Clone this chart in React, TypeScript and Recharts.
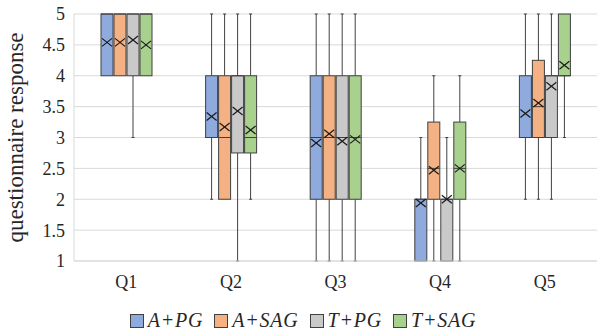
import React from 'react';
import { ComposedChart, Bar, XAxis, YAxis, CartesianGrid, Legend } from 'recharts';

// box stats per question: [min, q1, median, q3, max, mean]
const categories = ['Q1', 'Q2', 'Q3', 'Q4', 'Q5'];

const aPg = [
    [4, 4, 5, 5, 5, 4.54],
    [2, 3, 3, 4, 5, 3.34],
    [1, 2, 3, 4, 5, 2.91],
    [1, 1, 2, 2, 3, 1.94],
    [2, 3, 3, 4, 5, 3.39],
];
const aSag = [
    [4, 4, 5, 5, 5, 4.54],
    [2, 2, 3, 4, 5, 3.17],
    [1, 2, 3, 4, 5, 3.06],
    [1, 2, 2.5, 3.25, 4, 2.47],
    [2, 3, 3.5, 4.25, 5, 3.56],
];
const tPg = [
    [3, 4, 5, 5, 5, 4.58],
    [1, 2.75, 4, 4, 5, 3.43],
    [1, 2, 3, 4, 5, 2.94],
    [1, 1, 2, 2, 3, 2.0],
    [2, 3, 4, 4, 5, 3.83],
];
const tSag = [
    [4, 4, 5, 5, 5, 4.5],
    [2, 2.75, 3, 4, 5, 3.12],
    [1, 2, 3, 4, 5, 2.97],
    [1, 2, 2.5, 3.25, 4, 2.5],
    [3, 4, 4, 5, 5, 4.17],
];

const yTicks = [1, 1.5, 2, 2.5, 3, 3.5, 4, 4.5, 5];

const series = [
    { key: 'aPg', name: 'A+PG', color: '#8faadc', stats: aPg },
    { key: 'aSag', name: 'A+SAG', color: '#f4b183', stats: aSag },
    { key: 'tPg', name: 'T+PG', color: '#c9c9c9', stats: tPg },
    { key: 'tSag', name: 'T+SAG', color: '#a9d18e', stats: tSag },
];

const data = categories.map((name, i) => {
    const row: any = { name };
    series.forEach(s => {
        const [min, q1, med, q3, max, mean] = s.stats[i];
        row[s.key] = [min, max];
        row[s.key + 'Stats'] = { min, q1, med, q3, max, mean };
    });
    return row;
});

const LINE = '#404040';
const FONT = '"Liberation Serif", "Times New Roman", Tinos, serif';

const makeBoxShape = (key: string, color: string) => (props: any) => {
    const { x, y, width, height, payload } = props;
    const st = payload[key + 'Stats'];
    const top = Math.min(y, y + height);
    const bot = Math.max(y, y + height);
    const toPx = (v: number) => bot - ((v - st.min) / (st.max - st.min)) * (bot - top);
    const cx = x + width / 2;
    const yQ1 = toPx(st.q1);
    const yQ3 = toPx(st.q3);
    const yMed = toPx(st.med);
    const yMean = toPx(st.mean);
    return (
        <g>
            {st.max > st.q3 && (
                <>
                    <line x1={cx} x2={cx} y1={top} y2={yQ3} stroke={LINE} strokeWidth={1} />
                    <line x1={cx - 1.5} x2={cx + 1.5} y1={top} y2={top} stroke={LINE} strokeWidth={1} />
                </>
            )}
            {st.min < st.q1 && (
                <>
                    <line x1={cx} x2={cx} y1={yQ1} y2={bot} stroke={LINE} strokeWidth={1} />
                    <line x1={cx - 1.5} x2={cx + 1.5} y1={bot} y2={bot} stroke={LINE} strokeWidth={1} />
                </>
            )}
            <rect x={x} y={yQ3} width={width} height={yQ1 - yQ3} fill={color} stroke={LINE} strokeWidth={1} />
            <line x1={x} x2={x + width} y1={yMed} y2={yMed} stroke={LINE} strokeWidth={1} />
            <line x1={cx - 5} x2={cx + 5} y1={yMean - 4} y2={yMean + 4} stroke="#1a1a1a" strokeWidth={1.2} />
            <line x1={cx - 5} x2={cx + 5} y1={yMean + 4} y2={yMean - 4} stroke="#1a1a1a" strokeWidth={1.2} />
        </g>
    );
};

const renderLegend = () => (
    <div style={{ display: 'flex', justifyContent: 'center', alignItems: 'center', paddingTop: 16, paddingLeft: 20, fontFamily: FONT, fontSize: 20, fontStyle: 'italic', letterSpacing: 0.8, color: '#262626' }}>
        {series.map(s => (
            <div key={s.key} style={{ display: 'flex', alignItems: 'center', marginRight: 11 }}>
                <span style={{ display: 'inline-block', width: 12, height: 12, background: s.color, border: `1px solid ${LINE}`, marginRight: 4 }} />
                <span>{s.name}</span>
            </div>
        ))}
    </div>
);

const tickStyle = { fontFamily: FONT, fontSize: 18, fill: '#262626' };

export default function App() {
    return (
        <div style={{ position: 'absolute', left: 0, top: 0, width: 597, height: 333, background: '#fff', fontFamily: FONT }}>
            <ComposedChart
                width={597}
                height={333}
                data={data}
                margin={{ top: 14, right: 0, left: 0, bottom: 0 }}
                barSize={12}
                barGap={1}
            >
                <CartesianGrid horizontal vertical={false} stroke="#d9d9d9" />
                <XAxis
                    dataKey="name"
                    height={32}
                    tickLine={false}
                    axisLine={{ stroke: '#d9d9d9' }}
                    tickMargin={8}
                    tick={{ ...tickStyle, style: { fontFamily: FONT } }}
                />
                <YAxis
                    width={74}
                    domain={[1, 5]}
                    ticks={yTicks}
                    interval={0}
                    tickLine={false}
                    axisLine={{ stroke: '#d9d9d9' }}
                    tickMargin={3}
                    tick={{ ...tickStyle, style: { fontFamily: FONT } }}
                    label={{ value: 'questionnaire response', angle: -90, position: 'center', dx: -22, style: { fontFamily: FONT, fontSize: 23, fill: '#262626', textAnchor: 'middle' } }}
                />
                <Legend verticalAlign="bottom" height={40} content={renderLegend} />
                {series.map(s => (
                    <Bar
                        key={s.key}
                        dataKey={s.key}
                        name={s.name}
                        fill={s.color}
                        isAnimationActive={false}
                        shape={makeBoxShape(s.key, s.color)}
                    />
                ))}
            </ComposedChart>
        </div>
    );
}
